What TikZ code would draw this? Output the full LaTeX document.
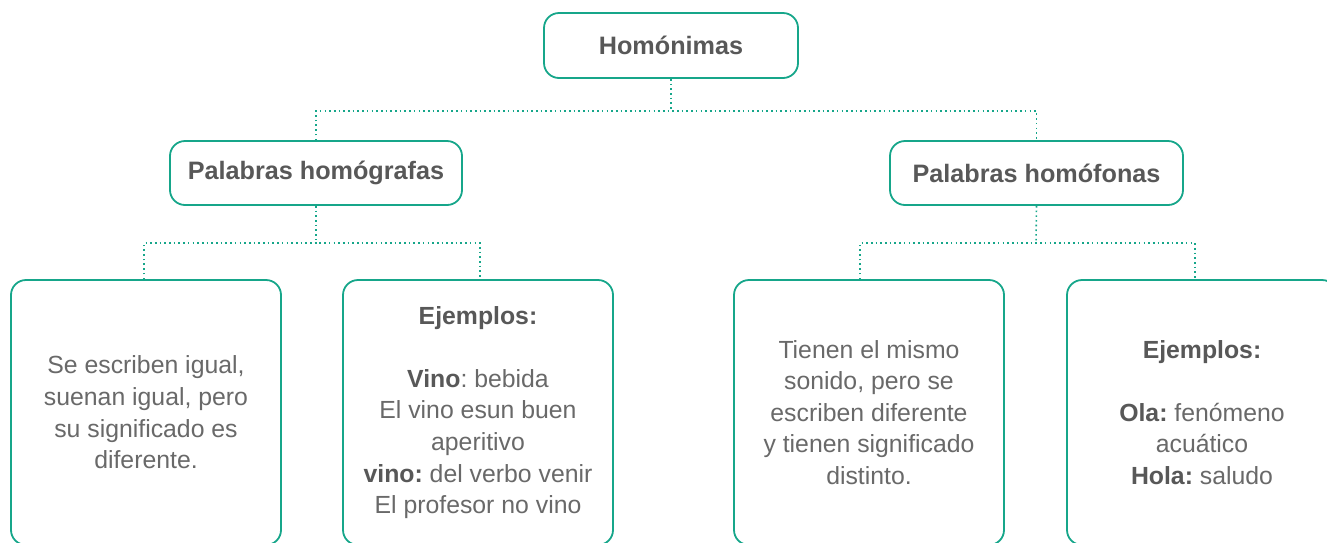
\documentclass[tikz,border=0pt]{standalone}
\usepackage{fontspec}
\setmainfont{Liberation Sans}
\frenchspacing
\definecolor{teal1}{RGB}{22,166,138}
\definecolor{titlegray}{RGB}{88,88,88}
\definecolor{bodygray}{RGB}{105,105,105}
\begin{document}
\begin{tikzpicture}[x=1pt,y=-1pt,
  box/.style={draw=teal1,line width=1.8pt,rounded corners=15pt,inner sep=0pt,fill=white},
  titlebox/.style={box,minimum height=65pt,text=titlegray,font=\fontsize{25.2}{29}\selectfont\bfseries},
  bigbox/.style={box,minimum width=270pt,minimum height=265pt,align=center,text=bodygray,font=\fontsize{24.8}{31.6}\selectfont\frenchspacing},
  conn/.style={draw=teal1,line width=1.6pt,dash pattern=on 1.6pt off 3.1pt}]
\useasboundingbox (0,0) rectangle (1327,542);
\node[titlebox,minimum width=254pt] (top) at (671,45.5) {Homónimas};
\node[titlebox,minimum width=292pt,minimum height=64pt] (hl) at (316,173) {Palabras homógrafas};
\node[titlebox,minimum width=293pt,minimum height=64pt] (hr) at (1036.5,173) {Palabras homófonas};
\node[bigbox] (b1) at (146,412.5) {Se escriben igual,\\suenan igual, pero\\su significado es\\diferente.};
\node[bigbox] (b2) at (478,412.5) {{\color{titlegray}\bfseries Ejemplos:}\\[31.6pt]{\color{titlegray}\bfseries Vino}: bebida\\El vino esun buen\\aperitivo\\{\color{titlegray}\bfseries vino:} del verbo venir\\El profesor no vino};
\node[bigbox] (b3) at (869,412.5) {Tienen el mismo\\sonido, pero se\\escriben diferente\\y tienen significado\\distinto.};
\node[bigbox] (b4) at (1202,412.5) {{\color{titlegray}\bfseries Ejemplos:}\\[31.6pt]{\color{titlegray}\bfseries Ola:} fenómeno\\acuático\\{\color{titlegray}\bfseries Hola:} saludo};
\coordinate (j1) at (671,111);
\coordinate (j2) at (316,243);
\coordinate (j3) at (1036,243);
\draw[conn] (top.south) -- (j1);
\draw[conn] (hl.north) |- (j1) -| (hr.north);
\draw[conn] (hl.south) -- (j2);
\draw[conn] ([xshift=-2pt]b1.north) |- (j2) -| ([xshift=2pt]b2.north);
\draw[conn] (hr.south) -- (j3);
\draw[conn] ([xshift=-9pt]b3.north) |- (j3) -| ([xshift=-7pt]b4.north);
\end{tikzpicture}
\end{document}
